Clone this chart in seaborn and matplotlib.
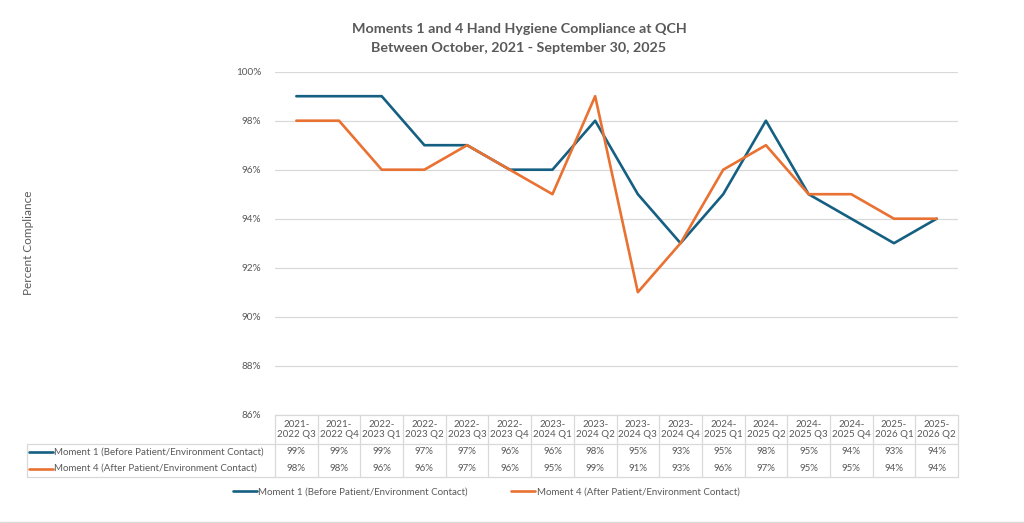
import matplotlib
matplotlib.use("Agg")
import matplotlib.pyplot as plt
from matplotlib.lines import Line2D
import seaborn as sns
import pandas as pd

quarters = ["2021-\n2022 Q3", "2021-\n2022 Q4", "2022-\n2023 Q1", "2022-\n2023 Q2",
            "2022-\n2023 Q3", "2022-\n2023 Q4", "2023-\n2024 Q1", "2023-\n2024 Q2",
            "2023-\n2024 Q3", "2023-\n2024 Q4", "2024-\n2025 Q1", "2024-\n2025 Q2",
            "2024-\n2025 Q3", "2024-\n2025 Q4", "2025-\n2026 Q1", "2025-\n2026 Q2"]
moment1 = [99, 99, 99, 97, 97, 96, 96, 98, 95, 93, 95, 98, 95, 94, 93, 94]
moment4 = [98, 98, 96, 96, 97, 96, 95, 99, 91, 93, 96, 97, 95, 95, 94, 94]
series_names = ["Moment 1 (Before Patient/Environment Contact)",
                "Moment 4 (After Patient/Environment Contact)"]
colors = ["#156082", "#E97132"]
title = "Moments 1 and 4 Hand Hygiene Compliance at QCH\nBetween October, 2021 - September 30, 2025"
ylabel = "Percent Compliance"

sns.set_theme(style="white")
plt.rcParams["font.family"] = ["Lato", "DejaVu Sans"]

W, H = 1024, 523
fig = plt.figure(figsize=(W / 100, H / 100), dpi=100)
fig.patch.set_facecolor("white")

def fx(px):
    return px / W

def fy(py):
    return 1 - py / H

ax_left, ax_right, ax_top, ax_bot = 275, 958, 71.7, 414.7
ax = fig.add_axes([fx(ax_left), fy(ax_bot), fx(ax_right - ax_left), (ax_bot - ax_top) / H])

df = pd.DataFrame({
    "idx": list(range(len(quarters))) * 2,
    "value": [v / 100 for v in moment1] + [v / 100 for v in moment4],
    "series": [series_names[0]] * len(quarters) + [series_names[1]] * len(quarters),
})
sns.lineplot(data=df, x="idx", y="value", hue="series", palette=colors,
             linewidth=1.9, legend=False, ax=ax)

ax.set_xlim(-0.5, len(quarters) - 0.5)
ax.set_ylim(0.86, 1.00)
yt = [0.86 + 0.02 * i for i in range(8)]
ax.set_yticks(yt)
ax.set_yticklabels([f"{round(v * 100)}%" for v in yt], color="#595959", fontsize=7.2)
ax.tick_params(axis="y", length=0, pad=10)
ax.set_xticks([])
ax.set_xlabel("")
ax.set_ylabel("")
for s in ax.spines.values():
    s.set_visible(False)
ax.grid(axis="y", color="#d9d9d9", linewidth=0.9)
ax.set_axisbelow(True)

fig.text(fx(28), fy(243), ylabel, rotation=90, ha="center", va="center",
         color="#595959", fontsize=8.5)
fig.text(fx(519), fy(38.5), title, ha="center", va="center", color="#595959",
         fontsize=10.3, fontweight="bold", linespacing=1.65)

# data table
n = len(quarters)
colw = (ax_right - ax_left) / n
gc = "#d9d9d9"
t_top, t_hdr, t_bot = 415, 443.5, 477
def hline(y, x0, x1):
    fig.add_artist(Line2D([fx(x0), fx(x1)], [fy(y), fy(y)], color=gc, lw=0.9))
def vline(x, y0, y1):
    fig.add_artist(Line2D([fx(x), fx(x)], [fy(y0), fy(y1)], color=gc, lw=0.9))

hline(t_top, ax_left, ax_right)
hline(t_hdr, 27, ax_right)
hline(t_bot, 27, ax_right)
for k in range(n + 1):
    vline(ax_left + k * colw, t_top, t_bot)
vline(27, t_hdr, t_bot)

rows_y = [452, 468.5]
fs = 7.0
for i, q in enumerate(quarters):
    cx = ax_left + (i + 0.5) * colw
    fig.text(fx(cx), fy((t_top + t_hdr) / 2), q, ha="center", va="center",
             fontsize=fs, color="#595959", linespacing=1.15)
    fig.text(fx(cx), fy(rows_y[0]), f"{moment1[i]}%", ha="center", va="center",
             fontsize=fs, color="#595959")
    fig.text(fx(cx), fy(rows_y[1]), f"{moment4[i]}%", ha="center", va="center",
             fontsize=fs, color="#595959")

for j, name in enumerate(series_names):
    y = rows_y[j]
    fig.add_artist(Line2D([fx(29), fx(53)], [fy(y), fy(y)], color=colors[j], lw=1.9))
    fig.text(fx(54), fy(y), name, ha="left", va="center", fontsize=fs, color="#595959")

handles = [Line2D([], [], color=colors[j], lw=1.9) for j in range(2)]
fig.legend(handles, series_names, loc="center", bbox_to_anchor=(fx(486), fy(492)),
           ncol=2, frameon=False, fontsize=fs, handlelength=2.5, handletextpad=0.15,
           columnspacing=4.4, labelcolor="#595959")

fig.add_artist(Line2D([0, 1], [fy(521.5), fy(521.5)], color="#d9d9d9", lw=1))

fig.savefig("out.png", dpi=100, facecolor="white")
